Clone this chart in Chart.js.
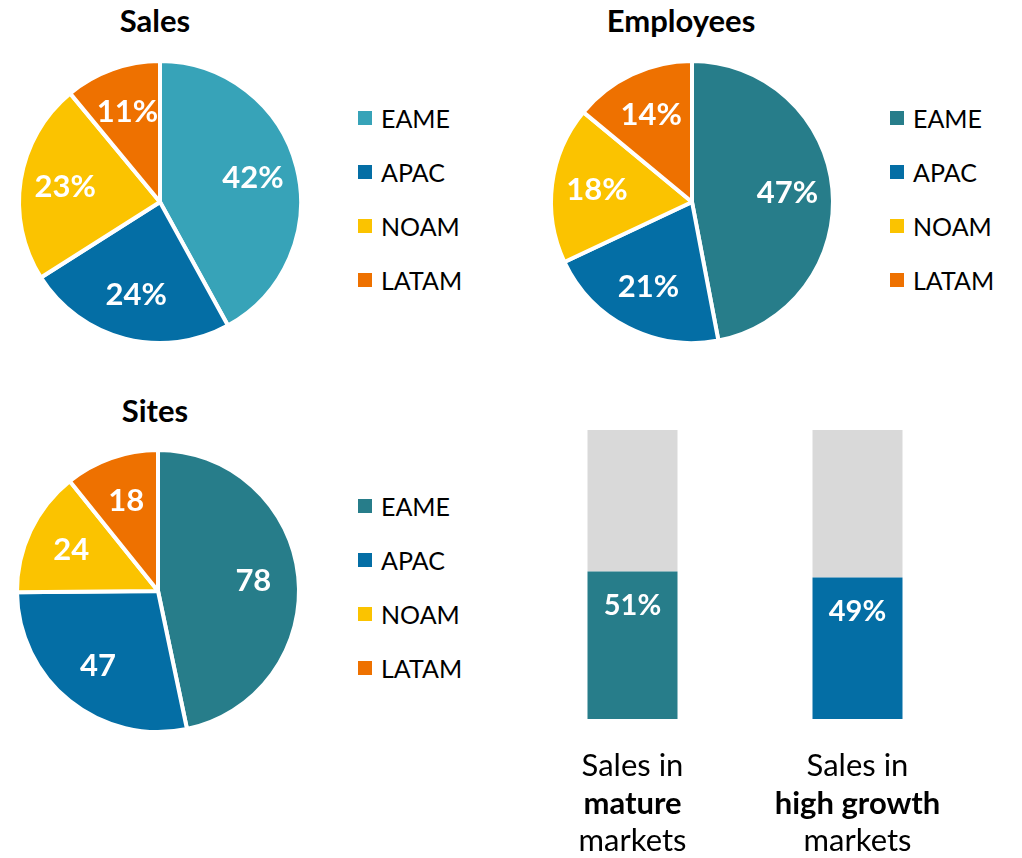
<!DOCTYPE html>
<html>
<head>
<meta charset="utf-8">
<script src="https://cdn.jsdelivr.net/npm/chart.js@4"></script>
<style>
  body { margin: 0; background: #fff; font-family: Lato, "Noto Sans", sans-serif; }
  #page { position: relative; width: 1022px; height: 858px; overflow: hidden; }
  .title { position: absolute; font-weight: bold; font-size: 31px; color: #000; transform: translate(-50%, -50%); white-space: nowrap; }
  .pie { position: absolute; width: 300px; height: 300px; }
  .legend { position: absolute; list-style: none; margin: 0; padding: 0; }
  .legend li { display: flex; align-items: center; height: 54px; font-size: 25px; color: #000; }
  .legend .box { width: 14px; height: 14px; margin-right: 9px; flex: none; }
  #bars-wrap { position: absolute; left: 520px; top: 420px; width: 450px; height: 438px; }
</style>
</head>
<body>
<div id="page">
  <div class="title" style="left:155px; top:20px;">Sales</div>
  <div class="title" style="left:681px; top:20px;">Employees</div>
  <div class="title" style="left:155px; top:410px;">Sites</div>

  <div class="pie" style="left:10px; top:52px;"><canvas id="salesPie"></canvas></div>
  <div class="pie" style="left:542px; top:52px;"><canvas id="employeesPie"></canvas></div>
  <div class="pie" style="left:8px; top:441px;"><canvas id="sitesPie"></canvas></div>

  <ul class="legend" id="salesLegend" style="left:358px; top:91px;"></ul>
  <ul class="legend" id="employeesLegend" style="left:890px; top:91px;"></ul>
  <ul class="legend" id="sitesLegend" style="left:358px; top:479px;"></ul>

  <div id="bars-wrap"><canvas id="marketBars"></canvas></div>
</div>

<script>
const regions = ["EAME", "APAC", "NOAM", "LATAM"];
const salesShare = [42, 24, 23, 11];
const employeesShare = [47, 21, 18, 14];
const sitesCount = [78, 47, 24, 18];

const marketLabels = [["Sales in", "mature", "markets"], ["Sales in", "high growth", "markets"]];
const marketSales = [51, 49];
const marketRest = [49, 51];

const salesColors = ["#37A3B8", "#046EA5", "#FBC300", "#EE7100"];
const regionColors = ["#277D8A", "#046EA5", "#FBC300", "#EE7100"];
const marketColors = ["#277D8A", "#046EA5"];
const restColor = "#D9D9D9";

const FONT = "Lato, 'Noto Sans', sans-serif";

// labels drawn inside each slice
const sliceLabels = {
  id: "sliceLabels",
  afterDatasetsDraw(chart, args, opts) {
    const ctx = chart.ctx;
    const meta = chart.getDatasetMeta(0);
    const data = chart.data.datasets[0].data;
    ctx.save();
    ctx.fillStyle = "#fff";
    ctx.font = "bold 31px " + FONT;
    ctx.textAlign = "center";
    ctx.textBaseline = "middle";
    meta.data.forEach((arc, i) => {
      const p = arc.getProps(["x", "y", "startAngle", "endAngle", "outerRadius"], true);
      const mid = (p.startAngle + p.endAngle) / 2;
      const r = p.outerRadius * 0.68;
      ctx.fillText(data[i] + (opts.suffix || ""), p.x + Math.cos(mid) * r, p.y + Math.sin(mid) * r);
    });
    ctx.restore();
  }
};

// html legend built from the chart's own legend items
const htmlLegend = {
  id: "htmlLegend",
  afterUpdate(chart, args, opts) {
    const ul = document.getElementById(opts.containerID);
    ul.innerHTML = "";
    const items = chart.options.plugins.legend.labels.generateLabels(chart);
    items.forEach(item => {
      const li = document.createElement("li");
      const box = document.createElement("span");
      box.className = "box";
      box.style.background = item.fillStyle;
      li.appendChild(box);
      li.appendChild(document.createTextNode(item.text));
      ul.appendChild(li);
    });
  }
};

function renderPie(elementId, legendId, values, colors, suffix) {
  new Chart(document.getElementById(elementId), {
    type: "pie",
    data: {
      labels: regions,
      datasets: [{
        data: values,
        backgroundColor: colors,
        borderColor: "#fff",
        borderWidth: 4,
        hoverOffset: 0
      }]
    },
    options: {
      responsive: true,
      maintainAspectRatio: false,
      animation: false,
      radius: 141,
      layout: { padding: 0 },
      plugins: {
        legend: { display: false },
        tooltip: { enabled: false },
        htmlLegend: { containerID: legendId },
        sliceLabels: { suffix: suffix }
      }
    },
    plugins: [sliceLabels, htmlLegend]
  });
}

// value labels and the category labels under the bars
const barLabels = {
  id: "barLabels",
  afterDraw(chart) {
    const ctx = chart.ctx;
    const x = chart.scales.x;
    const meta = chart.getDatasetMeta(0);
    ctx.save();
    ctx.textAlign = "center";
    ctx.textBaseline = "middle";
    meta.data.forEach((bar, i) => {
      ctx.fillStyle = "#fff";
      ctx.font = "bold 29px " + FONT;
      ctx.fillText(marketSales[i] + "%", bar.x, bar.y + 34);
    });
    const base = chart.chartArea.bottom;
    marketLabels.forEach((lines, i) => {
      const cx = x.getPixelForValue(i);
      lines.forEach((line, j) => {
        ctx.fillStyle = "#000";
        ctx.font = (j === 1 ? "bold " : "") + "31px " + FONT;
        ctx.fillText(line, cx, base + 47 + j * 37.5);
      });
    });
    ctx.restore();
  }
};

function renderBars() {
  new Chart(document.getElementById("marketBars"), {
    type: "bar",
    data: {
      labels: marketLabels.map(l => l.join(" ")),
      datasets: [
        { data: marketSales, backgroundColor: marketColors, barPercentage: 0.4, categoryPercentage: 1 },
        { data: marketRest, backgroundColor: restColor, barPercentage: 0.4, categoryPercentage: 1 }
      ]
    },
    options: {
      responsive: true,
      maintainAspectRatio: false,
      animation: false,
      layout: { padding: { top: 10, bottom: 139, left: 0, right: 0 } },
      scales: {
        x: { stacked: true, display: false },
        y: { stacked: true, display: false, min: 0, max: 100 }
      },
      plugins: {
        legend: { display: false },
        tooltip: { enabled: false }
      }
    },
    plugins: [barLabels]
  });
}

renderPie("salesPie", "salesLegend", salesShare, salesColors, "%");
renderPie("employeesPie", "employeesLegend", employeesShare, regionColors, "%");
renderPie("sitesPie", "sitesLegend", sitesCount, regionColors, "");
renderBars();
</script>
</body>
</html>
